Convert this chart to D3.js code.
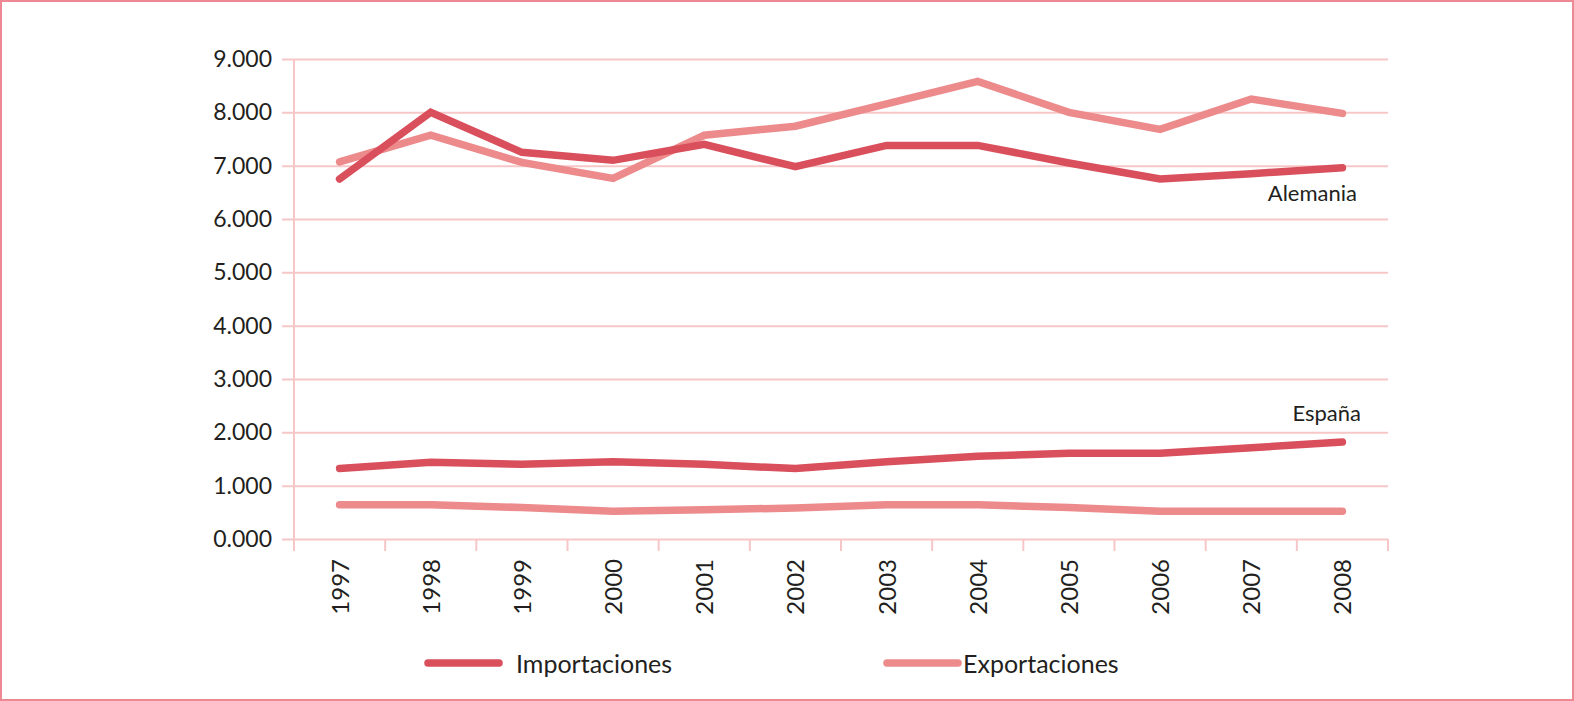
<!DOCTYPE html>
<html>
<head>
<meta charset="utf-8">
<script src="https://cdn.jsdelivr.net/npm/d3@7"></script>
<style>
  body { margin: 0; background: #fff; }
  svg { display: block; }
  text { font-family: Lato, "Noto Sans", sans-serif; fill: #231f20; }
</style>
</head>
<body>
<div id="chart"></div>
<script>
// years on the x axis
let years = ["1997","1998","1999","2000","2001","2002","2003","2004","2005","2006","2007","2008"];

// values in thousands
let alemaniaImp = [6.75, 8.0, 7.25, 7.1, 7.4, 6.98, 7.38, 7.38, 7.05, 6.75, 6.85, 6.96];
let alemaniaExp = [7.07, 7.57, 7.06, 6.76, 7.57, 7.74, 8.16, 8.58, 8.0, 7.68, 8.25, 7.98];
let espanaImp = [1.32, 1.44, 1.4, 1.45, 1.4, 1.32, 1.45, 1.55, 1.61, 1.61, 1.71, 1.82];
let espanaExp = [0.64, 0.64, 0.59, 0.52, 0.55, 0.58, 0.64, 0.64, 0.59, 0.52, 0.52, 0.52];

let yTicks = [0, 1, 2, 3, 4, 5, 6, 7, 8, 9];
let legendLabels = ["Importaciones", "Exportaciones"];

let svgWidth = 1574;
let svgHeight = 701;

let colImp = "#d94f5c";
let colExp = "#ec8a8c";
let colGrid = "#f7c7c7";

let margin = { top: 59, right: 186, bottom: 162, left: 294 };
let width = svgWidth - margin.left - margin.right;
let height = svgHeight - margin.top - margin.bottom;

let svg = d3.select("#chart")
    .append("svg")
    .attr("width", svgWidth)
    .attr("height", svgHeight);

// outer border
svg.append("rect")
    .attr("x", 1).attr("y", 1)
    .attr("width", svgWidth - 2).attr("height", svgHeight - 2)
    .attr("fill", "none")
    .attr("stroke", "#ee8893")
    .attr("stroke-width", 2);

let chartGroup = svg.append("g")
    .attr("transform", `translate(${margin.left}, ${margin.top})`);

let xBand = d3.scaleBand().domain(years).range([0, width]);
let yLinearScale = d3.scaleLinear().domain([0, 9]).range([height, 0]);

// y axis with gridlines
let yAxis = chartGroup.append("g")
    .call(d3.axisLeft(yLinearScale)
        .tickValues(yTicks)
        .tickSize(-width)
        .tickPadding(22)
        .tickFormat(d => d3.format(".3f")(d)));
yAxis.select(".domain").remove();
yAxis.selectAll(".tick line")
    .attr("x1", -12)
    .attr("stroke", colGrid)
    .attr("stroke-width", 2);
yAxis.selectAll(".tick text")
    .style("font-size", "23px")
    .attr("fill", "#231f20");

// vertical axis line
chartGroup.append("line")
    .attr("x1", 0).attr("x2", 0)
    .attr("y1", 0).attr("y2", height + 12)
    .attr("stroke", colGrid)
    .attr("stroke-width", 2);

// x axis: tick marks at band edges
let edges = years.map(y => xBand(y)).concat([width]);
chartGroup.selectAll(".xedge")
    .data(edges)
    .enter()
    .append("line")
    .attr("class", "xedge")
    .attr("x1", d => d).attr("x2", d => d)
    .attr("y1", height).attr("y2", height + 12)
    .attr("stroke", colGrid)
    .attr("stroke-width", 2);

chartGroup.selectAll(".xlabel")
    .data(years)
    .enter()
    .append("text")
    .attr("class", "xlabel")
    .attr("transform", d => `translate(${xBand(d) + xBand.bandwidth() / 2 + 9}, ${height + 20}) rotate(-90)`)
    .attr("text-anchor", "end")
    .style("font-size", "24px")
    .text(d => d);

// lines
let line = d3.line()
    .x((d, i) => xBand(years[i]) + xBand.bandwidth() / 2)
    .y(d => yLinearScale(d));

let series = [
    { values: alemaniaExp, color: colExp },
    { values: espanaExp, color: colExp },
    { values: alemaniaImp, color: colImp },
    { values: espanaImp, color: colImp }
];

chartGroup.selectAll(".serie")
    .data(series)
    .enter()
    .append("path")
    .attr("class", "serie")
    .attr("d", d => line(d.values))
    .attr("fill", "none")
    .attr("stroke", d => d.color)
    .attr("stroke-width", 7.5)
    .attr("stroke-linecap", "round")
    .attr("stroke-linejoin", "miter");

// country labels
chartGroup.append("text")
    .attr("x", width - 31)
    .attr("y", yLinearScale(alemaniaImp[11]) + 33)
    .attr("text-anchor", "end")
    .style("font-size", "22px")
    .text("Alemania");

chartGroup.append("text")
    .attr("x", width - 27)
    .attr("y", yLinearScale(espanaImp[11]) - 21)
    .attr("text-anchor", "end")
    .style("font-size", "22px")
    .text("España");

// legend
let legend = svg.append("g")
    .attr("transform", "translate(0, 663)");

let legendX = [428, 887];
let legendCols = [colImp, colExp];
let legendTextX = [516, 963];

legendLabels.forEach(function(lab, i) {
    legend.append("line")
        .attr("x1", legendX[i]).attr("x2", legendX[i] + 71)
        .attr("y1", 0).attr("y2", 0)
        .attr("stroke", legendCols[i])
        .attr("stroke-width", 7.5)
        .attr("stroke-linecap", "round");
    legend.append("text")
        .attr("x", legendTextX[i])
        .attr("y", 10)
        .style("font-size", "25px")
        .text(lab);
});
</script>
</body>
</html>
